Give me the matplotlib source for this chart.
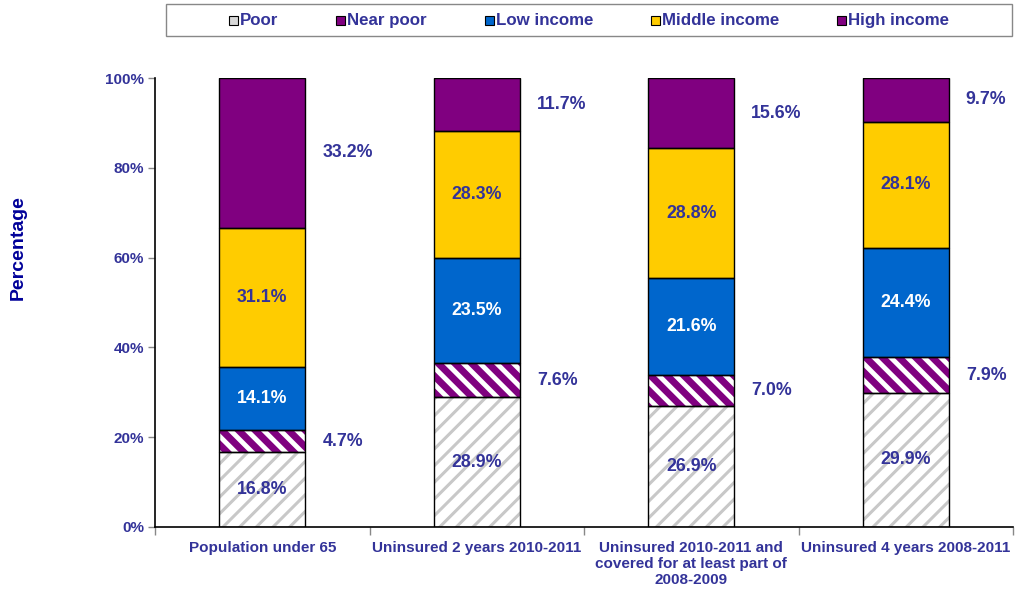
import matplotlib
matplotlib.use('Agg')
import matplotlib.pyplot as plt
import matplotlib.patches as mpatches
import numpy as np

categories = ["Population under 65", "Uninsured 2 years 2010-2011",
              "Uninsured 2010-2011 and\ncovered for at least part of\n2008-2009",
              "Uninsured 4 years 2008-2011"]
series_names = ["Poor", "Near poor", "Low income", "Middle income", "High income"]
poor = [16.8, 28.9, 26.9, 29.9]
near_poor = [4.7, 7.6, 7.0, 7.9]
low_income = [14.1, 23.5, 21.6, 24.4]
middle_income = [31.1, 28.3, 28.8, 28.1]
high_income = [33.2, 11.7, 15.6, 9.7]
yticks = [0, 20, 40, 60, 80, 100]

txt = '#333399'
plt.rcParams['font.family'] = ['Liberation Sans', 'DejaVu Sans']
plt.rcParams['font.weight'] = 'bold'

W, H = 1017, 593
fig = plt.figure(figsize=(W/100, H/100), dpi=100)
ax = fig.add_axes([155/W, 66/H, (1013-155)/W, 449/H])

x = np.arange(len(categories))
w = 0.4
series = [poor, near_poor, low_income, middle_income, high_income]
bottoms = np.zeros(len(categories))
seg_bottoms = []
for vals in series:
    seg_bottoms.append(bottoms.copy())
    bottoms = bottoms + np.array(vals)

# poor: gray hatch on white
with plt.rc_context({'hatch.linewidth': 2.2}):
    ax.bar(x, poor, w, bottom=seg_bottoms[0], color='white', edgecolor='#c8c8c8',
           hatch='//', linewidth=0)
# near poor: white stripes on purple
with plt.rc_context({'hatch.linewidth': 3.5}):
    ax.bar(x, near_poor, w, bottom=seg_bottoms[1], color='#800080', edgecolor='white',
           hatch='\\\\', linewidth=0)
ax.bar(x, low_income, w, bottom=seg_bottoms[2], color='#0066CC', linewidth=0)
ax.bar(x, middle_income, w, bottom=seg_bottoms[3], color='#FFCC00', linewidth=0)
ax.bar(x, high_income, w, bottom=seg_bottoms[4], color='#800080', linewidth=0)
# black outlines
for i, vals in enumerate(series):
    ax.bar(x, vals, w, bottom=seg_bottoms[i], fill=False, edgecolor='black', linewidth=1)

# labels
for j in range(len(categories)):
    for i, vals in enumerate(series):
        yc = seg_bottoms[i][j] + vals[j] / 2
        lab = f"{vals[j]:.1f}%"
        if i in (1, 4):
            ax.text(x[j] + w/2 + 0.08, yc, lab, ha='left', va='center', color=txt,
                    fontsize=12.8, fontweight='bold')
        else:
            ax.text(x[j], yc, lab, ha='center', va='center',
                    color='white' if i == 2 else txt, fontsize=12.8, fontweight='bold')

ax.set_xlim(-0.5, len(categories) - 0.5)
ax.set_ylim(0, 100)
ax.set_yticks(yticks)
ax.set_yticklabels([f"{t}%" for t in yticks], color=txt, fontsize=11, fontweight='bold')
ax.tick_params(axis='y', color='#888888', length=5, width=1, pad=3)
ax.set_xticks(x)
ax.set_xticklabels(categories, color=txt, fontsize=11, fontweight='bold')
ax.tick_params(axis='x', which='major', length=0, pad=10)
ax.set_xticks(np.arange(-0.5, len(categories)), minor=True)
ax.tick_params(axis='x', which='minor', color='#888888', length=6, width=1)
for s in ['top', 'right']:
    ax.spines[s].set_visible(False)
for s in ['left', 'bottom']:
    ax.spines[s].set_color('black')
    ax.spines[s].set_linewidth(1.2)

fig.text(18/W, (H - 248)/H, "Percentage", rotation=90, ha='center', va='center',
         color='#000099', fontsize=14, fontweight='bold')

# legend, laid out by hand so that all labels share one baseline
swatches = ['#d8d8d8', '#800080', '#0066CC', '#FFCC00', '#800080']
sq, pad, gap = 9, 2, 58
base_y = H - 25
renderer = fig.canvas.get_renderer()
labels = [fig.text(0, base_y/H, s, fontsize=12.2, fontweight='bold', color=txt,
                   va='baseline', ha='left') for s in series_names]
widths = [t.get_window_extent(renderer).width for t in labels]
total = sum(sq + pad + tw for tw in widths) + gap * (len(widths) - 1)
xpos = 589 - total / 2
for t, tw, c in zip(labels, widths, swatches):
    fig.add_artist(mpatches.Rectangle((xpos/W, (base_y + 0.5)/H), sq/W, sq/H,
                                      transform=fig.transFigure, facecolor=c,
                                      edgecolor='black', linewidth=0.8))
    t.set_x((xpos + sq + pad)/W)
    xpos += sq + pad + tw + gap
fig.add_artist(mpatches.Rectangle((166/W, 1 - 36/H), (1012-166)/W, 32/H,
                                  transform=fig.transFigure, fill=False,
                                  edgecolor='#888888', linewidth=1))

plt.savefig("out.png", dpi=100)
